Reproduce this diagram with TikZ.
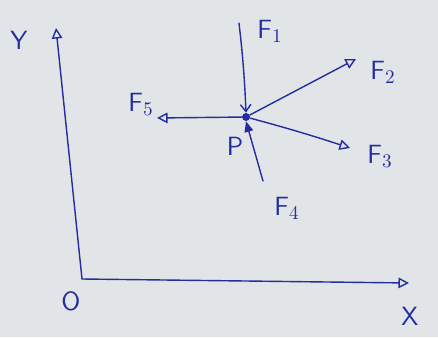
\documentclass[tikz,border=0pt]{standalone}
\usetikzlibrary{arrows.meta}
\definecolor{pen}{RGB}{35,45,160}
\definecolor{paper}{RGB}{226,229,232}
\begin{document}
\begin{tikzpicture}[x=0.02cm, y=-0.02cm,
      ink/.style={draw=pen,line width=0.8pt,line cap=round},
      arr/.style={ink,-{Triangle[open,length=6pt,width=6pt]}},
      lbl/.style={text=pen,font=\sffamily\fontsize{15}{17}\selectfont,inner sep=1pt}
    ]
      \fill[paper] (0,0) rectangle (438,337);

      % axes
      \coordinate (o) at (82,279);
      \coordinate (ytop) at (56,28);
      \coordinate (xend) at (409,283);
      \draw[ink,-{Triangle[open,length=6pt,width=6pt]}] (o) -- (xend);
      \draw[ink,-{Triangle[open,length=6pt,width=6pt]}] (o) -- (ytop);
      \node[lbl] (ylbl) at (19,40) {Y};
      \node[lbl] (xlbl) at (410,316) {X};
      \node[lbl] (olbl) at (71,301) {O};

      % forces at P
      \node[circle,fill=pen,inner sep=1.6pt] (p) at (246,117) {};
      \coordinate (f1end) at (239,23);
      \coordinate (f2end) at (356,59);
      \coordinate (f3end) at (350,148);
      \coordinate (f4end) at (263,181);
      \coordinate (f5end) at (157,118);
      \draw[ink,-{Straight Barb[length=4pt,width=6pt]}] (f1end) to[bend left=2] (p.north);
      \draw[arr] (p) -- (f2end);
      \draw[arr] (p) to[bend left=1.5] (f3end);
      \draw[ink,-{Triangle[length=6pt,width=5pt]}] (f4end) -- (p.south);
      \draw[arr] (p) -- (f5end);
      \node[lbl] (f1) at (270,31) {F$_1$};
      \node[lbl] (f2) at (383,72) {F$_2$};
      \node[lbl] (f3) at (380,156) {F$_3$};
      \node[lbl] (f4) at (287,208) {F$_4$};
      \node[lbl] (f5) at (141,104) {F$_5$};
      \node[lbl] (plbl) at (235,146) {P};
    \end{tikzpicture}
\end{document}
